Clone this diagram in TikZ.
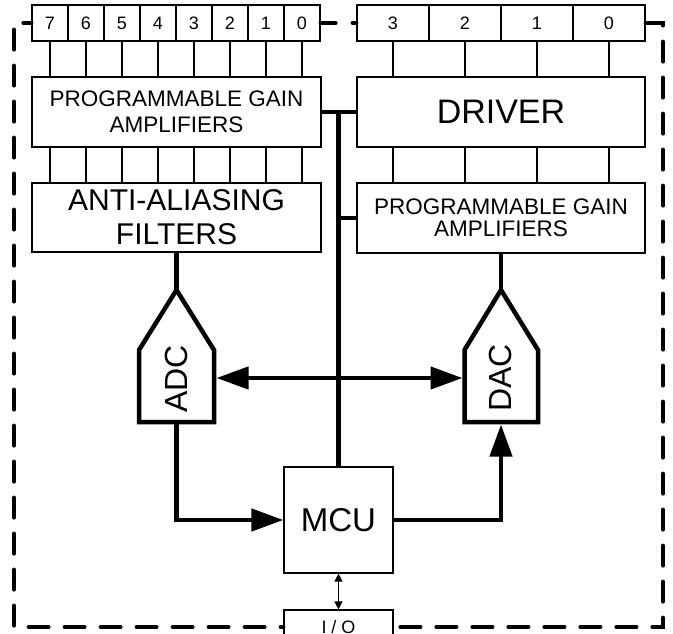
\documentclass[tikz,border=0pt]{standalone}
\usepackage{fontspec}
\setmainfont{Liberation Sans}
\usetikzlibrary{arrows.meta}
\begin{document}
\begin{tikzpicture}[x=1pt,y=-1pt,
  thinbox/.style={draw, line width=1.2pt, inner sep=0pt, align=center, fill=white},
  cell/.style={thinbox, minimum height=36pt, font=\fontsize{18}{20}\selectfont},
  wire/.style={line width=1.2pt},
  heavy/.style={line width=4.5pt},
  bigtip/.style={-{Triangle[length=32pt,width=22pt]}},
  bigboth/.style={{Triangle[length=32pt,width=22pt]}-{Triangle[length=32pt,width=22pt]}},
  smallboth/.style={line width=1.5pt,{Triangle[length=8pt,width=8pt]}-{Triangle[length=8pt,width=8pt]}},
  border/.style={line width=4pt, line cap=round, dash pattern=on 20pt off 16pt}
]
\useasboundingbox (0,0) rectangle (673,634);

% registers
\foreach \d in {0,...,7}{
  \pgfmathtruncatemacro\lab{7-\d}
  \node[cell, minimum width=36pt] (c\lab) at ({50+36*\d},23) {\lab};
}
\foreach \d in {0,...,3}{
  \pgfmathtruncatemacro\lab{3-\d}
  \node[cell, minimum width=72pt] (d\lab) at ({393+72*\d},23) {\lab};
}

% boxes
\node[thinbox, minimum width=289pt, minimum height=70pt, font=\fontsize{22.5}{26}\selectfont] (pgaL) at (176.5,112) {PROGRAMMABLE GAIN\\AMPLIFIERS};
\node[thinbox, minimum width=289pt, minimum height=69pt, font=\fontsize{30}{34}\selectfont] (aaf) at (176.5,217.5) {ANTI-ALIASING\\FILTERS};
\node[thinbox, minimum width=288pt, minimum height=70pt, font=\fontsize{34}{36}\selectfont] (drv) at (501,112) {DRIVER};
\node[thinbox, minimum width=288pt, minimum height=70pt, font=\fontsize{22.5}{22}\selectfont] (pgaR) at (501,218) {PROGRAMMABLE GAIN\\AMPLIFIERS};
\node[thinbox, minimum width=109pt, minimum height=106pt, font=\fontsize{33}{36}\selectfont] (mcu) at (338.5,520) {MCU};
\node[thinbox, minimum width=109pt, minimum height=34pt, font=\fontsize{18}{20}\selectfont] (io) at (338.5,627) {I / O};

% thin wires
\foreach \k in {0,...,7}{
  \draw[wire] (c\k.south) -- (c\k.south |- pgaL.north);
  \draw[wire] (c\k |- pgaL.south) -- (c\k |- aaf.north);
}
\foreach \k in {0,...,3}{
  \draw[wire] (d\k.south) -- (d\k.south |- drv.north);
  \draw[wire] (d\k |- drv.south) -- (d\k |- pgaR.north);
}

% converters
\coordinate (adcT) at (176.5,290);
\coordinate (adcB) at (176.5,422);
\coordinate (adcR) at (216.5,378);
\coordinate (dacT) at (501,290);
\coordinate (dacB) at (501,424.5);
\coordinate (dacL) at (462.5,378);
\draw[heavy, line join=miter] (adcT) -- (214,350) -- (214,422) -- (139,422) -- (139,350) -- cycle;
\draw[heavy, line join=miter] (dacT) -- (538,350) -- (538,422) -- (464.5,422) -- (464.5,350) -- cycle;
\node[rotate=90, inner sep=0pt, font=\fontsize{32}{32}\selectfont] (adc) at (176.5,379) {ADC};
\node[rotate=90, inner sep=0pt, font=\fontsize{32}{32}\selectfont] (dac) at (500,378) {DAC};

% bus and heavy connectors
\coordinate (busT) at (338.5,112);
\draw[heavy] (pgaL.east) -- (drv.west);
\draw[heavy] (busT) -- (mcu.north);
\draw[heavy] (busT |- pgaR.west) -- (pgaR.west);
\draw[heavy] (aaf.south) -- (adcT);
\draw[heavy] (pgaR.south) -- (dacT);
\draw[heavy, bigboth] (adcR) -- (dacL);
\draw[heavy, bigtip] (adcB) |- (mcu.west);
\draw[heavy, bigtip] (mcu.east) -| (dacB);
\draw[smallboth] (mcu.south) -- (io.north);

% dashed border
\coordinate (tl) at (14,23);
\coordinate (bl) at (14,627);
\coordinate (br) at (663,627);
\coordinate (tr) at (663,23);
\draw[border, dash phase=12pt] (c7.west) -- (tl) -- (bl) -- (io.west |- bl);
\draw[border] (d0.east) -- (tr) -- (br) -- (io.east |- br);
\draw[border, dash pattern=on 15pt off 17pt on 20pt off 20pt] (c0.east) -- (d3.west);
\end{tikzpicture}
\end{document}
